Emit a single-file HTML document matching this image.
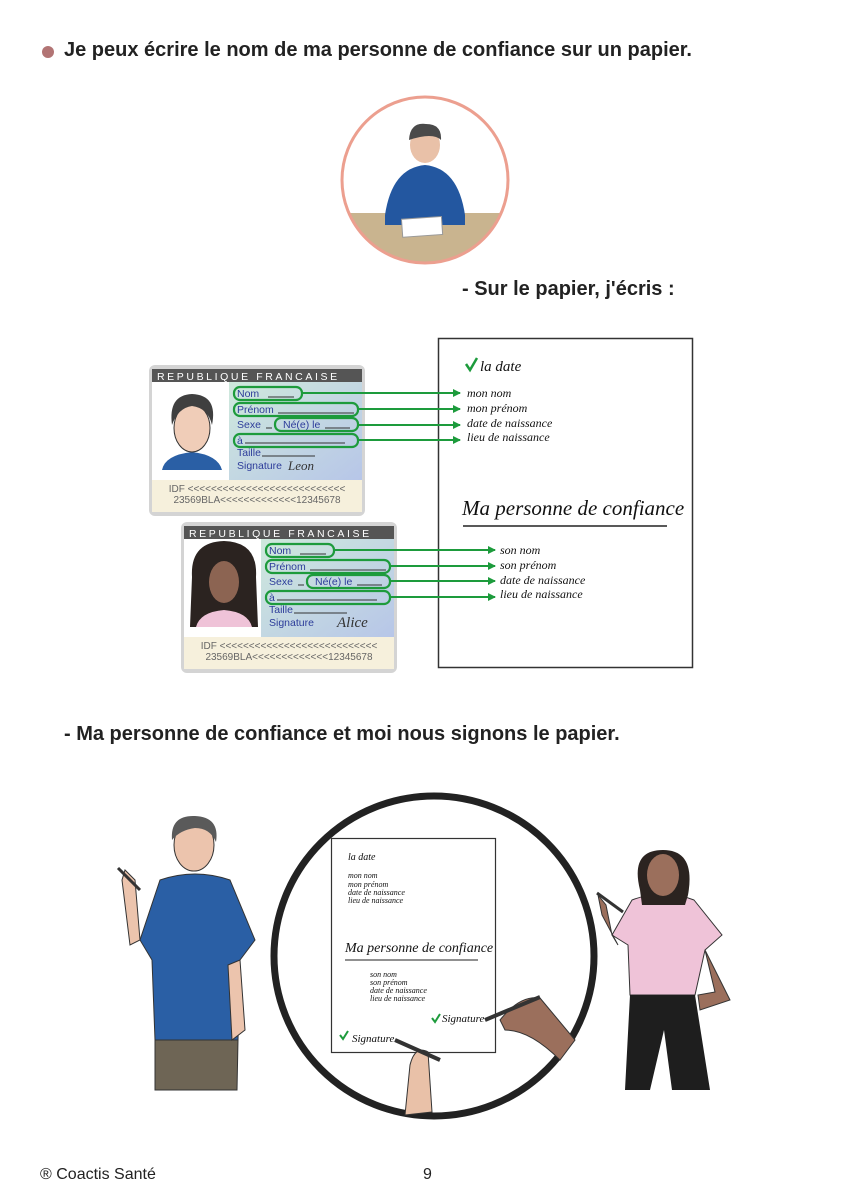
<!DOCTYPE html>
<html><head><meta charset="utf-8"><style>
body{margin:0;background:#fff;}
#p{position:relative;width:849px;height:1200px;overflow:hidden;font-family:"Liberation Sans",sans-serif;}
.t{position:absolute;font-weight:bold;font-size:20px;color:#222;white-space:nowrap;}
.h{font-family:"Liberation Serif",serif;font-style:italic;fill:#111;}
</style></head><body><div id="p">
<div style="position:absolute;left:42px;top:46px;width:12px;height:12px;border-radius:50%;background:#b27474"></div>
<div class="t" style="left:64px;top:39px">Je peux écrire le nom de ma personne de confiance sur un papier.</div>
<div class="t" style="left:462px;top:278px">- Sur le papier, j'écris :</div>
<div class="t" style="left:64px;top:723px">- Ma personne de confiance et moi nous signons le papier.</div>
<div style="position:absolute;left:40px;top:1166px;font-size:16px;color:#222">® Coactis Santé</div>
<div style="position:absolute;left:423px;top:1166px;font-size:16px;color:#222">9</div>
<svg width="849" height="1200" style="position:absolute;left:0;top:0" font-family="Liberation Sans, sans-serif">
<defs>
<linearGradient id="g" x1="0" y1="0" x2="1" y2="1"><stop offset="0" stop-color="#cfe9dc"/><stop offset="1" stop-color="#b7c6e8"/></linearGradient>
<clipPath id="c1"><circle cx="425" cy="180" r="82"/></clipPath>
<marker id="a" markerWidth="8" markerHeight="8" refX="7" refY="4" orient="auto" markerUnits="userSpaceOnUse"><path d="M0,0 L8,4 L0,8z" fill="#1d9b3c"/></marker>
</defs>
<g clip-path="url(#c1)">
<rect x="340" y="213" width="170" height="60" fill="#c9b48f"/>
<path d="M385,215 Q392,168 425,165 Q458,168 465,215 L465,225 L385,225z" fill="#2357a0"/>
<rect x="402" y="218" width="40" height="18" fill="#fff" stroke="#999" transform="rotate(-4 420 226)"/>
<ellipse cx="425" cy="145" rx="15" ry="18" fill="#e9c1a8"/>
<path d="M409,140 Q410,122 426,124 Q442,124 441,140 Q433,132 409,140z" fill="#4a4a4a"/>
</g>
<circle cx="425" cy="180" r="83" fill="none" stroke="#ec9f8f" stroke-width="3"/>
<rect x="438.5" y="338.5" width="254" height="329" fill="#fff" stroke="#333" stroke-width="1.5"/>
<path d="M466,364 l4,6 l7,-12" stroke="#1d9b3c" stroke-width="2.5" fill="none"/>
<text class="h" x="480" y="371" font-size="15">la date</text>
<text class="h" x="467" y="397" font-size="12">mon nom</text>
<text class="h" x="467" y="412" font-size="12">mon prénom</text>
<text class="h" x="467" y="427" font-size="12">date de naissance</text>
<text class="h" x="467" y="441" font-size="12">lieu de naissance</text>
<text class="h" x="462" y="515" font-size="21">Ma personne de confiance</text>
<line x1="463" y1="526" x2="667" y2="526" stroke="#222" stroke-width="1.5"/>
<text class="h" x="500" y="554" font-size="12">son nom</text>
<text class="h" x="500" y="569" font-size="12">son prénom</text>
<text class="h" x="500" y="584" font-size="12">date de naissance</text>
<text class="h" x="500" y="598" font-size="12">lieu de naissance</text>
<g>
<rect x="149" y="365" width="216" height="151" rx="6" fill="#d4d4d4"/>
<rect x="152" y="369" width="210" height="13" fill="#555"/>
<text x="157" y="380" font-size="10.5" fill="#fff" letter-spacing="2.6">REPUBLIQUE FRANCAISE</text>
<rect x="152" y="382" width="77" height="98" fill="#fff"/>
<rect x="229" y="382" width="133" height="98" fill="url(#g)"/>
<rect x="152" y="480" width="210" height="32" fill="#f6f0dc"/>
<path d="M162,470 Q165,455 192,452 Q218,455 222,470z" fill="#2a5fa5"/>
<ellipse cx="192" cy="428" rx="18" ry="24" fill="#f0cdb8" stroke="#333" stroke-width="1"/>
<path d="M172,425 Q168,395 192,394 Q218,395 212,425 Q208,408 192,406 Q178,408 172,425z" fill="#3f3f3f"/>
<g font-size="10.5" fill="#2c3c9a">
<text x="237" y="397">Nom</text><text x="237" y="413">Prénom</text><text x="237" y="428">Sexe</text><text x="283" y="428">Né(e) le</text><text x="237" y="444">à</text><text x="237" y="456">Taille</text><text x="237" y="469">Signature</text>
</g>
<g stroke="#333" stroke-width="1"><line x1="268" y1="397" x2="294" y2="397"/><line x1="278" y1="413" x2="354" y2="413"/><line x1="266" y1="428" x2="272" y2="428"/><line x1="325" y1="428" x2="350" y2="428"/><line x1="245" y1="443" x2="345" y2="443"/><line x1="262" y1="456" x2="315" y2="456"/></g>
<text x="288" y="470" font-size="13" font-style="italic" font-family="Liberation Serif,serif" fill="#333">Leon</text>
<g fill="none" stroke="#1d9b3c" stroke-width="2.2">
<rect x="234" y="387" width="68" height="13" rx="6"/><rect x="234" y="403" width="124" height="13" rx="6"/><rect x="275" y="418" width="83" height="13" rx="6"/><rect x="234" y="434" width="124" height="13" rx="6"/>
</g>
<g font-size="10" fill="#666" text-anchor="middle"><text x="257" y="492">IDF &lt;&lt;&lt;&lt;&lt;&lt;&lt;&lt;&lt;&lt;&lt;&lt;&lt;&lt;&lt;&lt;&lt;&lt;&lt;&lt;&lt;&lt;&lt;&lt;&lt;&lt;&lt;</text><text x="257" y="503">23569BLA&lt;&lt;&lt;&lt;&lt;&lt;&lt;&lt;&lt;&lt;&lt;&lt;&lt;12345678</text></g>
</g>
<g stroke="#1d9b3c" stroke-width="2" marker-end="url(#a)">
<line x1="302" y1="393" x2="460" y2="393"/><line x1="358" y1="409" x2="460" y2="409"/><line x1="358" y1="425" x2="460" y2="425"/><line x1="358" y1="440" x2="460" y2="440"/>
</g>
<g transform="translate(32,157)">
<rect x="149" y="365" width="216" height="151" rx="6" fill="#d4d4d4"/>
<rect x="152" y="369" width="210" height="13" fill="#555"/>
<text x="157" y="380" font-size="10.5" fill="#fff" letter-spacing="2.6">REPUBLIQUE FRANCAISE</text>
<rect x="152" y="382" width="77" height="98" fill="#fff"/>
<rect x="229" y="382" width="133" height="98" fill="url(#g)"/>
<rect x="152" y="480" width="210" height="32" fill="#f6f0dc"/>
<path d="M160,420 Q158,385 192,384 Q226,385 224,420 L226,470 L158,470z" fill="#2b2320"/>
<path d="M164,470 Q168,455 192,453 Q216,455 220,470z" fill="#efc3d8"/>
<ellipse cx="192" cy="425" rx="15" ry="21" fill="#8c6452"/>
<g font-size="10.5" fill="#2c3c9a">
<text x="237" y="397">Nom</text><text x="237" y="413">Prénom</text><text x="237" y="428">Sexe</text><text x="283" y="428">Né(e) le</text><text x="237" y="444">à</text><text x="237" y="456">Taille</text><text x="237" y="469">Signature</text>
</g>
<g stroke="#333" stroke-width="1"><line x1="268" y1="397" x2="294" y2="397"/><line x1="278" y1="413" x2="354" y2="413"/><line x1="266" y1="428" x2="272" y2="428"/><line x1="325" y1="428" x2="350" y2="428"/><line x1="245" y1="443" x2="345" y2="443"/><line x1="262" y1="456" x2="315" y2="456"/></g>
<text x="305" y="470" font-size="15" font-style="italic" font-family="Liberation Serif,serif" fill="#333">Alice</text>
<g fill="none" stroke="#1d9b3c" stroke-width="2.2">
<rect x="234" y="387" width="68" height="13" rx="6"/><rect x="234" y="403" width="124" height="13" rx="6"/><rect x="275" y="418" width="83" height="13" rx="6"/><rect x="234" y="434" width="124" height="13" rx="6"/>
</g>
<g font-size="10" fill="#666" text-anchor="middle"><text x="257" y="492">IDF &lt;&lt;&lt;&lt;&lt;&lt;&lt;&lt;&lt;&lt;&lt;&lt;&lt;&lt;&lt;&lt;&lt;&lt;&lt;&lt;&lt;&lt;&lt;&lt;&lt;&lt;&lt;</text><text x="257" y="503">23569BLA&lt;&lt;&lt;&lt;&lt;&lt;&lt;&lt;&lt;&lt;&lt;&lt;&lt;12345678</text></g>
</g>
<g stroke="#1d9b3c" stroke-width="2" marker-end="url(#a)">
<line x1="334" y1="550" x2="495" y2="550"/><line x1="390" y1="566" x2="495" y2="566"/><line x1="390" y1="581" x2="495" y2="581"/><line x1="390" y1="597" x2="495" y2="597"/>
</g>
<circle cx="434" cy="956" r="160" fill="#fff" stroke="#222" stroke-width="7"/>
<rect x="331.5" y="838.5" width="164" height="214" fill="#fff" stroke="#333" stroke-width="1.2"/>
<g class="h" font-size="8">
<text x="348" y="860" font-size="10">la date</text>
<text x="348" y="878">mon nom</text><text x="348" y="887">mon prénom</text><text x="348" y="895">date de naissance</text><text x="348" y="903">lieu de naissance</text>
<text x="345" y="952" font-size="14">Ma personne de confiance</text>
<text x="370" y="977">son nom</text><text x="370" y="985">son prénom</text><text x="370" y="993">date de naissance</text><text x="370" y="1001">lieu de naissance</text>
<text x="352" y="1042" font-size="11">Signature</text><text x="442" y="1022" font-size="11">Signature</text>
</g>
<line x1="345" y1="960" x2="478" y2="960" stroke="#222" stroke-width="1"/>
<path d="M340,1035 l3,4 l5,-8" stroke="#1d9b3c" stroke-width="2" fill="none"/>
<path d="M432,1018 l3,4 l5,-8" stroke="#1d9b3c" stroke-width="2" fill="none"/>
<path d="M405,1115 L410,1065 Q415,1045 428,1052 L432,1112z" fill="#e9c1a8" stroke="#333"/>
<line x1="395" y1="1040" x2="440" y2="1060" stroke="#333" stroke-width="4"/>
<path d="M500,1020 Q520,995 540,998 L575,1040 L560,1060 Q530,1030 505,1030z" fill="#9b6f5c" stroke="#333"/>
<line x1="485" y1="1020" x2="540" y2="997" stroke="#333" stroke-width="4"/>
<path d="M160,880 Q195,868 230,880 L255,940 L240,960 L238,1040 L155,1040 L152,960 L140,940z" fill="#2a5fa5" stroke="#333"/>
<path d="M155,1040 L238,1040 L237,1090 L155,1090z" fill="#6e6555" stroke="#333"/>
<path d="M140,940 L135,880 L125,870 L122,880 L130,945z" fill="#ecc4ad" stroke="#333"/>
<path d="M240,960 L245,1030 L232,1040 L228,965z" fill="#ecc4ad" stroke="#333"/>
<ellipse cx="194" cy="845" rx="20" ry="26" fill="#ecc4ad" stroke="#333"/>
<path d="M172,840 Q170,815 195,816 Q220,817 216,842 Q210,828 195,828 Q180,830 172,840z" fill="#5a5a5a"/>
<line x1="118" y1="868" x2="140" y2="890" stroke="#333" stroke-width="3"/>
<path d="M632,900 Q663,888 694,900 L722,935 L705,950 L695,995 L630,995 L628,945 L612,935z" fill="#efc3d8" stroke="#333"/>
<path d="M630,995 L695,995 L710,1090 L672,1090 L664,1030 L650,1090 L625,1090z" fill="#1e1e1e"/>
<path d="M705,950 L730,1000 L700,1010 L698,995 L715,992z" fill="#9b6f5c" stroke="#333"/>
<path d="M612,935 L606,905 L598,895 L602,915 L618,945z" fill="#9b6f5c" stroke="#333"/>
<path d="M640,890 Q630,850 663,850 Q696,850 688,895 L685,905 L642,905z" fill="#2b2320"/>
<ellipse cx="663" cy="875" rx="16" ry="21" fill="#9b6f5c"/>
<line x1="597" y1="893" x2="623" y2="912" stroke="#333" stroke-width="3"/>
</svg>
</div></body></html>
